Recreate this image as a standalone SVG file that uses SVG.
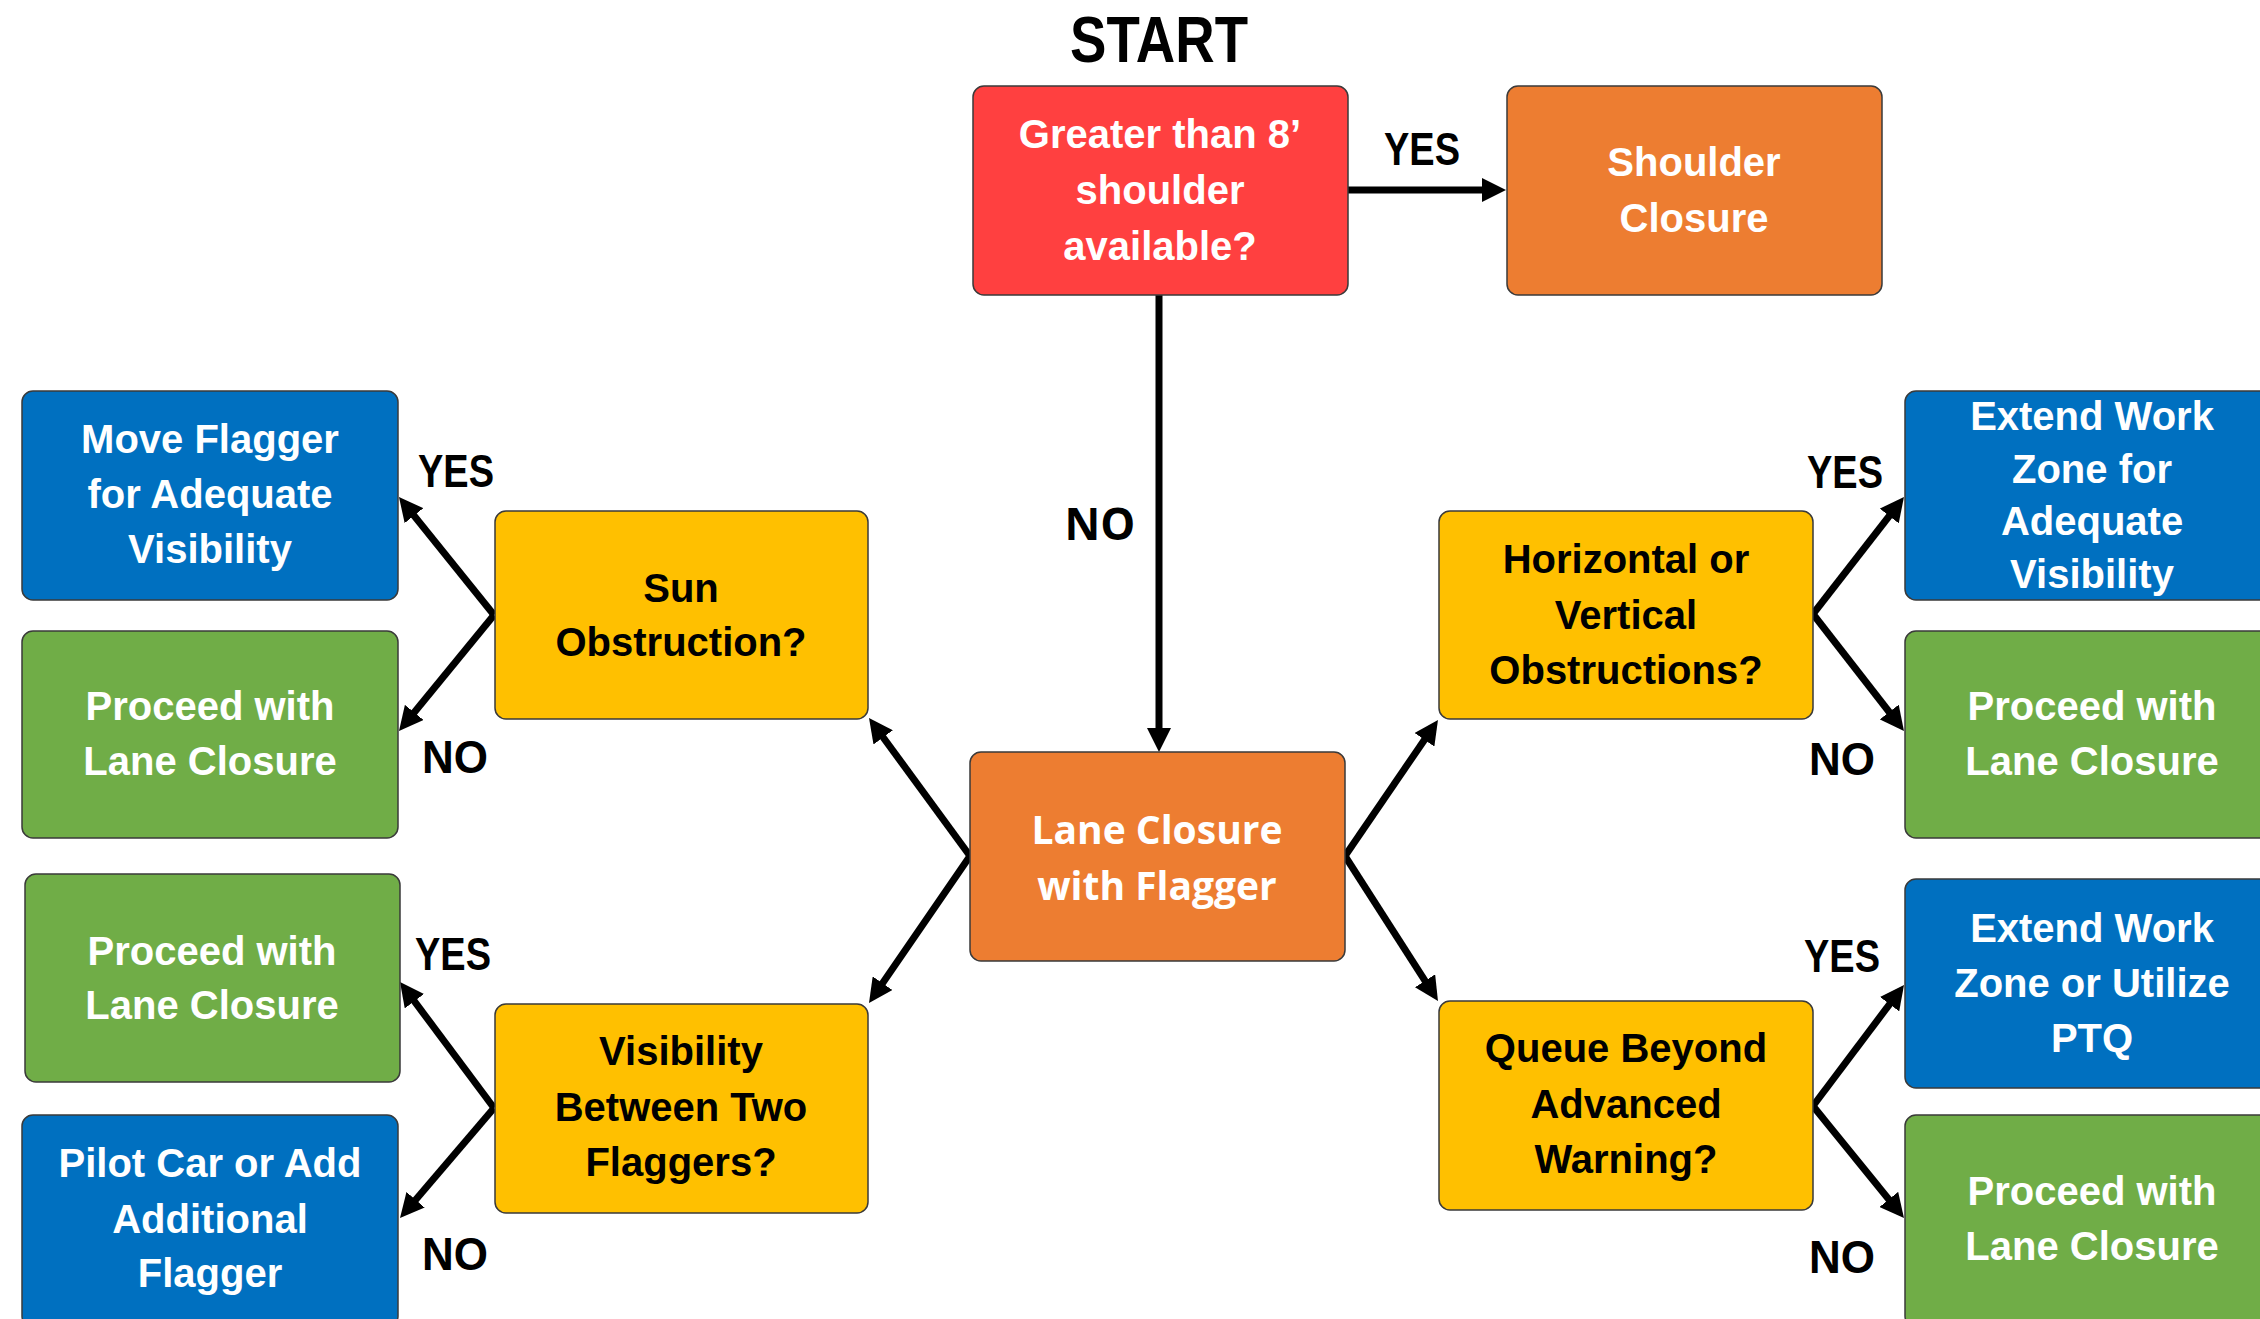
<svg xmlns="http://www.w3.org/2000/svg" width="2260" height="1319" viewBox="0 0 2260 1319">
<defs>
<style>
.box{stroke:#3a3a3a;stroke-width:1.5}
.red{fill:#FF4040}.org{fill:#ED7D31}.blu{fill:#0070C0}.grn{fill:#70AD47}.yel{fill:#FFC000}
.t{font-family:"Liberation Sans",Arial,sans-serif;font-weight:bold;font-size:40px;text-anchor:middle}
.w{fill:#fff}.k{fill:#000}
.lbl{font-family:"Liberation Sans Narrow","Liberation Sans",Arial,sans-serif;font-weight:bold;font-size:46px;text-anchor:middle;fill:#000}
.os{font-family:"Open Sans","Liberation Sans",sans-serif;font-weight:bold;text-anchor:middle}
.c{stroke:#000;stroke-width:7;fill:none;marker-end:url(#ah)}
</style>
<marker id="ah" markerUnits="userSpaceOnUse" markerWidth="24" markerHeight="24" refX="12" refY="12" orient="auto">
<path d="M0,0 L24,12 L0,24 z" fill="#000"/>
</marker>
</defs>
<rect width="2260" height="1319" fill="#fff"/>
<text class="lbl" x="1159" y="62" style="font-size:65px" textLength="178" lengthAdjust="spacingAndGlyphs">START</text>

<g id="connectors">
<line class="c" x1="1347" y1="190" x2="1494" y2="190"/>
<line class="c" x1="1159" y1="295" x2="1159" y2="740"/>
<line class="c" x1="970" y1="856" x2="876.1" y2="727.7"/>
<line class="c" x1="970" y1="856" x2="875.8" y2="993.1"/>
<line class="c" x1="1345" y1="856" x2="1431.2" y2="729.9"/>
<line class="c" x1="1345" y1="856" x2="1431.5" y2="990.9"/>
<line class="c" x1="494" y1="615" x2="406.5" y2="506.3"/>
<line class="c" x1="494" y1="615" x2="406.6" y2="721.7"/>
<line class="c" x1="494" y1="1108" x2="407.2" y2="991.6"/>
<line class="c" x1="494" y1="1108" x2="407.8" y2="1208.9"/>
<line class="c" x1="1813" y1="614" x2="1896.6" y2="506.5"/>
<line class="c" x1="1813" y1="614" x2="1896.6" y2="721.5"/>
<line class="c" x1="1813" y1="1106" x2="1896.8" y2="994.6"/>
<line class="c" x1="1813" y1="1106" x2="1896.4" y2="1208.7"/>
<text class="lbl" x="1422" y="165" textLength="76" lengthAdjust="spacingAndGlyphs">YES</text>
<text class="os" x="1100" y="540" style="font-size:44px">NO</text>
<text class="lbl" x="456" y="487" textLength="76" lengthAdjust="spacingAndGlyphs">YES</text>
<text class="lbl" x="455" y="773" textLength="66" lengthAdjust="spacingAndGlyphs">NO</text>
<text class="lbl" x="453" y="970" textLength="76" lengthAdjust="spacingAndGlyphs">YES</text>
<text class="lbl" x="455" y="1270" textLength="66" lengthAdjust="spacingAndGlyphs">NO</text>
<text class="lbl" x="1845" y="488" textLength="76" lengthAdjust="spacingAndGlyphs">YES</text>
<text class="lbl" x="1842" y="775" textLength="66" lengthAdjust="spacingAndGlyphs">NO</text>
<text class="lbl" x="1842" y="972" textLength="76" lengthAdjust="spacingAndGlyphs">YES</text>
<text class="lbl" x="1842" y="1273" textLength="66" lengthAdjust="spacingAndGlyphs">NO</text>
</g>

<g id="n-start">
<rect class="box red" x="973" y="86" width="375" height="209" rx="11"/>
<text class="t w" x="1160" y="148">Greater than 8’</text>
<text class="t w" x="1160" y="204">shoulder</text>
<text class="t w" x="1160" y="260">available?</text>
</g>
<g id="n-shoulder">
<rect class="box org" x="1507" y="86" width="375" height="209" rx="11"/>
<text class="t w" x="1694" y="176">Shoulder</text>
<text class="t w" x="1694" y="232">Closure</text>
</g>
<g id="n-lane">
<rect class="box org" x="970" y="752" width="375" height="209" rx="11"/>
<text class="os w" x="1157" y="844" style="font-size:39px">Lane Closure</text>
<text class="os w" x="1157" y="900" style="font-size:39px">with Flagger</text>
</g>
<g id="n-sun">
<rect class="box yel" x="495" y="511" width="373" height="208" rx="11"/>
<text class="t k" x="681" y="602">Sun</text>
<text class="t k" x="681" y="656">Obstruction?</text>
</g>
<g id="n-visibility">
<rect class="box yel" x="495" y="1004" width="373" height="209" rx="11"/>
<text class="t k" x="681" y="1065">Visibility</text>
<text class="t k" x="681" y="1121">Between Two</text>
<text class="t k" x="681" y="1176">Flaggers?</text>
</g>
<g id="n-horizontal">
<rect class="box yel" x="1439" y="511" width="374" height="208" rx="11"/>
<text class="t k" x="1626" y="573">Horizontal or</text>
<text class="t k" x="1626" y="629">Vertical</text>
<text class="t k" x="1626" y="684">Obstructions?</text>
</g>
<g id="n-queue">
<rect class="box yel" x="1439" y="1001" width="374" height="209" rx="11"/>
<text class="t k" x="1626" y="1062">Queue Beyond</text>
<text class="t k" x="1626" y="1118">Advanced</text>
<text class="t k" x="1626" y="1173">Warning?</text>
</g>
<g id="n-move">
<rect class="box blu" x="22" y="391" width="376" height="209" rx="11"/>
<text class="t w" x="210" y="453">Move Flagger</text>
<text class="t w" x="210" y="508">for Adequate</text>
<text class="t w" x="210" y="563">Visibility</text>
</g>
<g id="n-proceed1">
<rect class="box grn" x="22" y="631" width="376" height="207" rx="11"/>
<text class="t w" x="210" y="720">Proceed with</text>
<text class="t w" x="210" y="775">Lane Closure</text>
</g>
<g id="n-proceed2">
<rect class="box grn" x="25" y="874" width="375" height="208" rx="11"/>
<text class="t w" x="212" y="965">Proceed with</text>
<text class="t w" x="212" y="1019">Lane Closure</text>
</g>
<g id="n-pilot">
<rect class="box blu" x="22" y="1115" width="376" height="212" rx="11"/>
<text class="t w" x="210" y="1177">Pilot Car or Add</text>
<text class="t w" x="210" y="1233">Additional</text>
<text class="t w" x="210" y="1287">Flagger</text>
</g>
<g id="n-extend1">
<rect class="box blu" x="1905" y="391" width="375" height="209" rx="11"/>
<text class="t w" x="2092" y="430">Extend Work</text>
<text class="t w" x="2092" y="483">Zone for</text>
<text class="t w" x="2092" y="535">Adequate</text>
<text class="t w" x="2092" y="588">Visibility</text>
</g>
<g id="n-proceed3">
<rect class="box grn" x="1905" y="631" width="375" height="207" rx="11"/>
<text class="t w" x="2092" y="720">Proceed with</text>
<text class="t w" x="2092" y="775">Lane Closure</text>
</g>
<g id="n-extend2">
<rect class="box blu" x="1905" y="879" width="375" height="209" rx="11"/>
<text class="t w" x="2092" y="942">Extend Work</text>
<text class="t w" x="2092" y="997">Zone or Utilize</text>
<text class="t w" x="2092" y="1052">PTQ</text>
</g>
<g id="n-proceed4">
<rect class="box grn" x="1905" y="1115" width="375" height="212" rx="11"/>
<text class="t w" x="2092" y="1205">Proceed with</text>
<text class="t w" x="2092" y="1260">Lane Closure</text>
</g>
</svg>
